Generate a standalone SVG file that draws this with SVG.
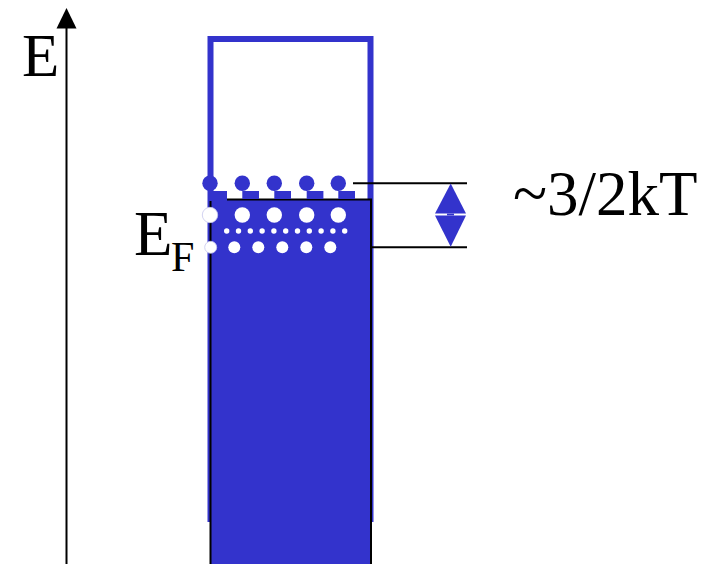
<svg xmlns="http://www.w3.org/2000/svg" width="712" height="564" viewBox="0 0 712 564">
<style>
.blue{fill:#3333CC}
.wdot{fill:#fff}
.ln{stroke:#000;stroke-width:2;fill:none}
</style>
<rect width="712" height="564" fill="#fff"/>
<g id="axis">
<line x1="66.5" y1="564" x2="66.5" y2="27" class="ln"/>
<path d="M56.5,28.5 L66.5,8 L76.5,28.5 Z" fill="#000"/>
<text font-family="Liberation Serif, Times New Roman, Times, serif" x="22" y="76" font-size="61" fill="#000">E</text>
</g>
<g id="band">
<path d="M210.5,522 V39 H370.5 V522" fill="none" stroke="#3333CC" stroke-width="6"/>
<rect x="210.5" y="199.5" width="160.5" height="380" class="blue" stroke="#000" stroke-width="2"/>
<rect x="208" y="191" width="19" height="10" class="blue"/>
<rect x="242.3" y="191" width="16.7" height="8" class="blue"/>
<rect x="274.3" y="191" width="16.7" height="8" class="blue"/>
<rect x="306.7" y="191" width="16.7" height="8" class="blue"/>
<rect x="338.3" y="191" width="16.7" height="8" class="blue"/>
</g>
<g id="electrons-above">
<circle cx="210" cy="183.3" r="7.7" class="blue"/>
<circle cx="242.3" cy="183.3" r="7.7" class="blue"/>
<circle cx="274.3" cy="183.3" r="7.7" class="blue"/>
<circle cx="306.7" cy="183.3" r="7.7" class="blue"/>
<circle cx="338.3" cy="183.3" r="7.7" class="blue"/>
</g>
<g id="holes">
<circle cx="210" cy="215" r="7.7" class="wdot" stroke="#c8c8ee" stroke-width="0.8"/>
<circle cx="242.3" cy="215" r="7.7" class="wdot"/>
<circle cx="274.3" cy="215" r="7.7" class="wdot"/>
<circle cx="306.7" cy="215" r="7.7" class="wdot"/>
<circle cx="338.3" cy="215" r="7.7" class="wdot"/>
<circle cx="226.7" cy="231" r="2.7" class="wdot"/>
<circle cx="238.5" cy="231" r="2.7" class="wdot"/>
<circle cx="250.3" cy="231" r="2.7" class="wdot"/>
<circle cx="262.1" cy="231" r="2.7" class="wdot"/>
<circle cx="273.9" cy="231" r="2.7" class="wdot"/>
<circle cx="285.7" cy="231" r="2.7" class="wdot"/>
<circle cx="297.5" cy="231" r="2.7" class="wdot"/>
<circle cx="309.3" cy="231" r="2.7" class="wdot"/>
<circle cx="321.1" cy="231" r="2.7" class="wdot"/>
<circle cx="332.9" cy="231" r="2.7" class="wdot"/>
<circle cx="344.7" cy="231" r="2.7" class="wdot"/>
<circle cx="210.7" cy="247.3" r="6" class="wdot" stroke="#c8c8ee" stroke-width="0.8"/>
<circle cx="234.3" cy="247.3" r="6" class="wdot"/>
<circle cx="258.3" cy="247.3" r="6" class="wdot"/>
<circle cx="282.3" cy="247.3" r="6" class="wdot"/>
<circle cx="306.3" cy="247.3" r="6" class="wdot"/>
<circle cx="330.3" cy="247.3" r="6" class="wdot"/>
</g>
<g id="connectors">
<line x1="353" y1="183.3" x2="467" y2="183.3" class="ln"/>
<line x1="371" y1="247.3" x2="467" y2="247.3" class="ln"/>
<path d="M450.7,183.5 L466,213.6 L435,213.6 Z" class="blue"/>
<path d="M435,215.4 L466,215.4 L450.7,246.8 Z" class="blue"/>
<rect x="447" y="213.6" width="7" height="1.8" class="blue"/>
</g>
<g id="labels">
<text font-family="Liberation Serif, Times New Roman, Times, serif" x="134" y="254.5" font-size="63" fill="#000">E</text>
<text font-family="Liberation Serif, Times New Roman, Times, serif" x="171" y="271" font-size="42" fill="#000">F</text>
<text font-family="Liberation Serif, Times New Roman, Times, serif" x="513" y="215" font-size="63" fill="#000">~3/2kT</text>
</g>
</svg>
